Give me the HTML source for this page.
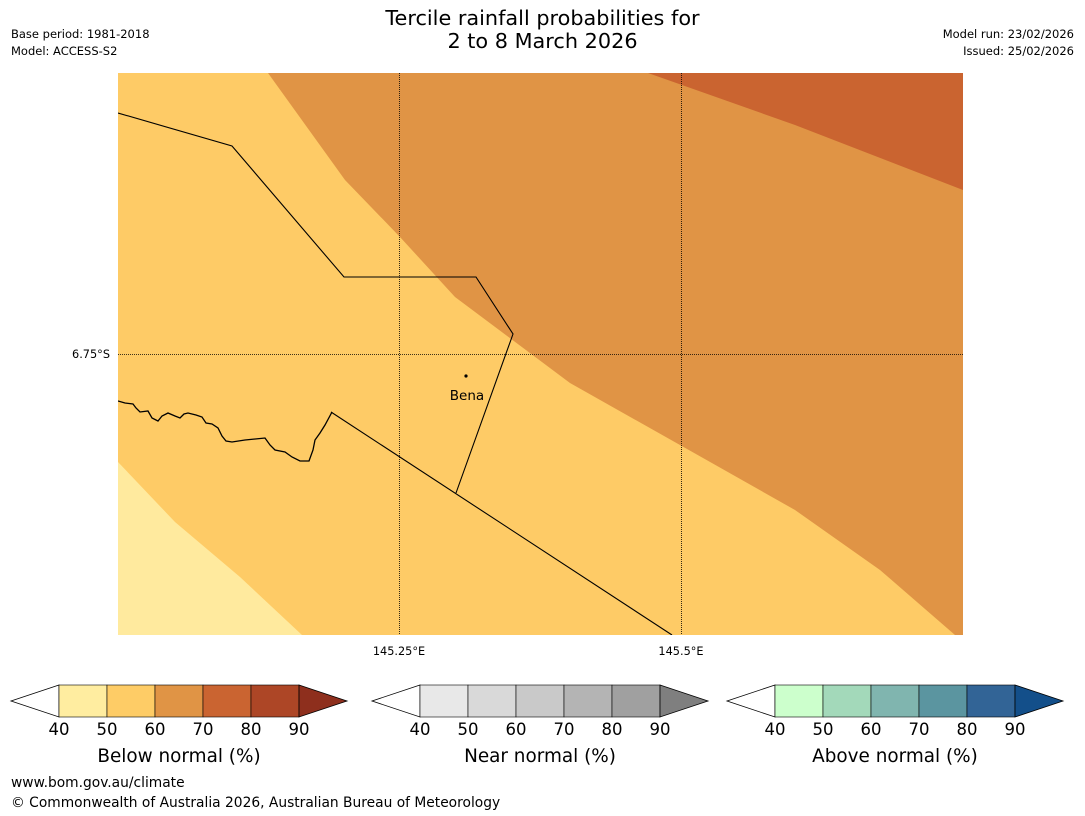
<!DOCTYPE html>
<html><head><meta charset="utf-8"><style>
body{margin:0;background:#fff;font-family:"DejaVu Sans","Liberation Sans",sans-serif;}
#wrap{position:relative;width:1085px;height:816px;overflow:hidden;background:#fff}
.t{position:absolute;white-space:nowrap;color:#000}
</style></head><body>
<div id="wrap">
<div class="t" style="left:0;width:1085px;top:7px;text-align:center;font-size:20.8px;line-height:23px">Tercile rainfall probabilities for<br>2 to 8 March 2026</div>
<div class="t" style="left:11px;top:26px;font-size:11.5px;line-height:17px">Base period: 1981-2018<br>Model: ACCESS-S2</div>
<div class="t" style="right:11px;top:26px;font-size:11.5px;line-height:17px;text-align:right">Model run: 23/02/2026<br>Issued: 25/02/2026</div>
<svg width="1085" height="816" style="position:absolute;left:0;top:0">
<defs><clipPath id="c"><rect x="118" y="73" width="845" height="562"/></clipPath></defs>
<g clip-path="url(#c)">
<rect x="118" y="73" width="845" height="562" fill="#FECB66"/>
<polygon fill="#E09445" points="268,73 963,73 963,635 955,635 880,570 795,510 680,445 570,383 455,297 400,237 345,180"/>
<polygon fill="#CA6430" points="648,73 963,73 963,190 795,125"/>
<polygon fill="#FFEA9E" points="118,462 175,522 240,577 302,635 118,635"/>
<polyline fill="none" stroke="#000" stroke-width="1.1" points="118,113 232,146 344,277 476,277 513,334 456,493"/>
<line x1="331" y1="412" x2="672" y2="635" stroke="#000" stroke-width="1.1"/>
<polyline fill="none" stroke="#000" stroke-width="1.3" points="118,401 125,403 133,404 136,408 140,412 148,411 152,418 158,421 162,416 168,413 175,416 180,418 184,414 188,413 196,415 202,417 206,423 212,424 218,428 222,436 226,441 232,442 245,440 265,438 270,445 275,450 285,452 292,457 300,461 309,461 313,450 315,440 320,433 325,425 332,412"/>
</g>
<g stroke="#000" stroke-width="0.8" stroke-dasharray="1,1">
<line x1="399.5" y1="73" x2="399.5" y2="635"/>
<line x1="681.5" y1="73" x2="681.5" y2="635"/>
<line x1="118" y1="354.5" x2="963" y2="354.5"/>
</g>
<circle cx="466" cy="376" r="1.6" fill="#000"/>
<text x="467" y="400" font-size="13.5" text-anchor="middle" font-family="DejaVu Sans,Liberation Sans,sans-serif">Bena</text>
<text x="110" y="358" font-size="11.3" text-anchor="end" font-family="DejaVu Sans,Liberation Sans,sans-serif">6.75°S</text>
<text x="399" y="655" font-size="11.3" text-anchor="middle" font-family="DejaVu Sans,Liberation Sans,sans-serif">145.25°E</text>
<text x="681" y="655" font-size="11.3" text-anchor="middle" font-family="DejaVu Sans,Liberation Sans,sans-serif">145.5°E</text>
<g id="bars"></g>
</svg>
<div class="t" style="left:11px;top:775px;font-size:13.8px">www.bom.gov.au/climate</div>
<div class="t" style="left:11px;top:795px;font-size:13.8px">© Commonwealth of Australia 2026, Australian Bureau of Meteorology</div>
</div>
<script>
const ticks=[40,50,60,70,80,90];
const barTitles=["Below normal (%)","Near normal (%)","Above normal (%)"];
const barNames=["below-normal","near-normal","above-normal"];
const barLeft=[59,420,775];
const belowColors=["#FFEDA0","#FECC66","#E09445","#CA6431","#AD4626","#8E2F1D"];
const nearColors=["#E8E8E8","#D9D9D9","#C9C9C9","#B4B4B4","#A0A0A0","#7F7F7F"];
const aboveColors=["#CCFFCC","#A3D9BA","#80B5AF","#5B95A0","#326496","#134F8A"];
const palettes=[belowColors,nearColors,aboveColors];
const NS="http://www.w3.org/2000/svg";
const g=document.getElementById('bars');
const w=48,y0=685,h=32;
function mk(tag,attrs){const e=document.createElementNS(NS,tag);for(const k in attrs)e.setAttribute(k,attrs[k]);g.appendChild(e);return e;}
barLeft.forEach((x0,b)=>{
 const xs=v=>x0+(v-ticks[0])/10*w;
 const n=ticks.length-1;
 let e=mk('polygon',{points:`${x0},${y0} ${x0-48},${y0+h/2} ${x0},${y0+h}`,fill:'#fff',stroke:'#000','stroke-width':0.8});
 
 
 for(let i=0;i<n;i++){
  e=mk('rect',{x:xs(ticks[i]),y:y0,width:xs(ticks[i+1])-xs(ticks[i]),height:h,fill:palettes[b][i],stroke:'#000','stroke-width':0.6});
  
  
 }
 const xe=xs(ticks[n]);
 e=mk('polygon',{points:`${xe},${y0} ${xe+48},${y0+h/2} ${xe},${y0+h}`,fill:palettes[b][n],stroke:'#000','stroke-width':0.8});
 
 
 ticks.forEach(t=>{
  e=mk('text',{x:xs(t),y:735,'font-size':16.5,'text-anchor':'middle','font-family':'DejaVu Sans,Liberation Sans,sans-serif'});
  e.textContent=t;
  
  
 });
 e=mk('text',{x:(x0+xe)/2,y:762,'font-size':18.4,'text-anchor':'middle','font-family':'DejaVu Sans,Liberation Sans,sans-serif'});
 e.textContent=barTitles[b];
 
 
});
</script>
</body></html>
